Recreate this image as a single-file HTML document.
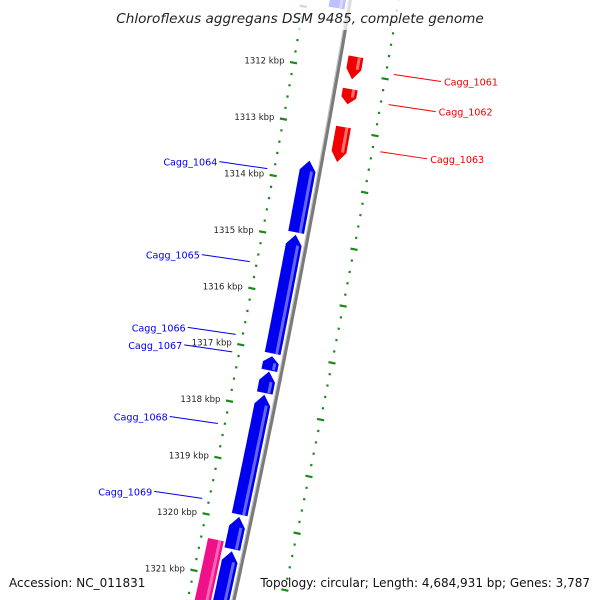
<!DOCTYPE html>
<html><head><meta charset="utf-8"><style>
html,body{margin:0;padding:0;background:#fff;overflow:hidden;}
svg{display:block;overflow:hidden;font-family:"DejaVu Sans","Liberation Sans",sans-serif;}
</style></head><body>
<svg id="map" width="600" height="600" viewBox="0 0 600 600" xmlns="http://www.w3.org/2000/svg">
<g id="ticks"></g>
<g id="genes"></g>
<g id="labels"></g>
<rect x="0" y="0" width="600" height="30" fill="#fff" fill-opacity="0.75"/>
<text x="300" y="23" text-anchor="middle" font-size="13.6" font-style="italic" fill="#222">Chloroflexus aggregans DSM 9485, complete genome</text>
<text x="9" y="587" font-size="12" fill="#111">Accession: NC_011831</text>
<text x="590" y="587" text-anchor="end" font-size="12" fill="#111">Topology: circular; Length: 4,684,931 bp; Genes: 3,787</text>
</svg>
<script>
// data
const tickKbp = [1312,1313,1314,1315,1316,1317,1318,1319,1320,1321];
const geneNames = ["top","Cagg_1064","Cagg_1065","Cagg_1066","Cagg_1067","Cagg_1068","Cagg_1069","next","pink","Cagg_1061","Cagg_1062","Cagg_1063"];
const geneStart = [1310.4,1313.63,1314.94,1317.09,1317.36,1317.77,1319.93,1320.54,1320.40,1311.71,1312.28,1312.95];
const geneEnd   = [1310.93,1314.90,1317.04,1317.34,1317.74,1319.89,1320.50,1322.0,1322.0,1312.11,1312.55,1313.57];
const geneKind  = ["fwd","fwd","fwd","fwd","fwd","fwd","fwd","fwd","other","rev","rev","rev"];
const labelNames = ["Cagg_1061","Cagg_1062","Cagg_1063","Cagg_1064","Cagg_1065","Cagg_1066","Cagg_1067","Cagg_1068","Cagg_1069"];
const labelKbp = [1311.9,1312.43,1313.26,1313.9,1315.55,1316.84,1317.15,1318.42,1319.75];

const NS="http://www.w3.org/2000/svg";
function bx(y){return 350-0.17*y-0.00004*y*y;}
function slope(y){return -0.17-0.00008*y;}
function Y(k){return 70.5+(k-1312)*56.6;}
function pt(k,d){const y0=Y(k),s=slope(y0),n=Math.sqrt(1+s*s);return [bx(y0)+d/n,y0-s*d/n];}
function mk(tag,attrs,parent){const e=document.createElementNS(NS,tag);for(const a in attrs)e.setAttribute(a,attrs[a]);parent.appendChild(e);return e;}
function ptsStr(a){return a.map(p=>p[0].toFixed(1)+","+p[1].toFixed(1)).join(" ");}

const tg=document.getElementById('ticks'),gg=document.getElementById('genes'),lg=document.getElementById('labels');

// backbone
const bb=[];for(let k=1310.5;k<=1322.2;k+=0.1)bb.push(pt(k,0));
const bbLine=mk('polyline',{points:ptsStr(bb),fill:'none',stroke:'#7a7a7a','stroke-width':4},gg);


const bb2=[];for(let k=1310.5;k<=1322.2;k+=0.1)bb2.push(pt(k,-1.6));
const bbHi=mk('polyline',{points:ptsStr(bb2),fill:'none',stroke:'#c4c4c4','stroke-width':1.2},gg);



// tick tracks (radial ticks)
function track(d){
  for(let k=1310.6;k<=1322.2;k+=0.2){
    const kk=Math.round(k*5)/5;
    const major=Math.abs(kk-Math.round(kk))<0.01;
    const len=major?3.6:1.1;
    const a=pt(kk,d-len),b=pt(kk,d+len);
    const l=mk('line',{x1:a[0],y1:a[1],x2:b[0],y2:b[1],stroke:'#1a8a1a','stroke-width':2.2},tg);
    
    
  }
}
track(-45);
track(48);
tickKbp.forEach(k=>{
  const p=pt(k,-45);
  const t=mk('text',{x:p[0]-9,y:p[1]+1,'text-anchor':'end','font-size':8.5,fill:'#222'},tg);
  t.textContent=k+' kbp';
  
  
});

// genes
const kindStyle={fwd:{d1:-20,d2:-4,fill:'#0000ee',hi:'#6666ff',dir:-1},rev:{d1:8,d2:23,fill:'#f00000',hi:'#ff7070',dir:1},other:{d1:-38,d2:-22,fill:'#ee1188',hi:'#ff66bb',dir:0}};
geneNames.forEach((nm,i)=>{
  const st=kindStyle[geneKind[i]];
  const s=geneStart[i],e=geneEnd[i];
  const head=Math.min(0.18,(e-s)*0.45);
  let left=[],right=[];
  const a=st.dir<0?s+head:s, b=st.dir>0?e-head:e;
  const step=Math.max(0.02,(b-a)/20);
  for(let k=a;k<=b+1e-6;k+=step){left.push(pt(k,st.d1));right.push(pt(k,st.d2));}
  left.push(pt(b,st.d1));right.push(pt(b,st.d2));
  let poly=[];
  if(st.dir<0)poly.push(pt(s,(st.d1+st.d2)/2));
  poly=poly.concat(left);
  if(st.dir>0)poly.push(pt(e,(st.d1+st.d2)/2));
  poly=poly.concat(right.reverse());
  const g=mk('polygon',{points:ptsStr(poly),fill:st.fill},gg);
  
  
  const hi=[];const dm=st.d2-4;
  for(let k=a;k<=b+1e-6;k+=step)hi.push(pt(k,dm));
  const h=mk('polyline',{points:ptsStr(hi),fill:'none',stroke:st.hi,'stroke-width':3},gg);
  
  
});

// labels
labelNames.forEach((nm,i)=>{
  const k=labelKbp[i];
  const rev=i<3;
  const p=pt(k,rev?56:-52);
  const col=rev?'#ee0000':'#0000ee';
  const ex=rev?p[0]+47:p[0]-48, ey=rev?p[1]+7:p[1]-7;
  const ln=mk('line',{x1:p[0],y1:p[1],x2:ex,y2:ey,stroke:col,'stroke-width':1},lg);
  
  
  const t=mk('text',{x:rev?ex+3:ex-2,y:ey+4,'text-anchor':rev?'start':'end','font-size':9.6,fill:col},lg);
  t.textContent=nm;
  
  
});
</script>
</body></html>
